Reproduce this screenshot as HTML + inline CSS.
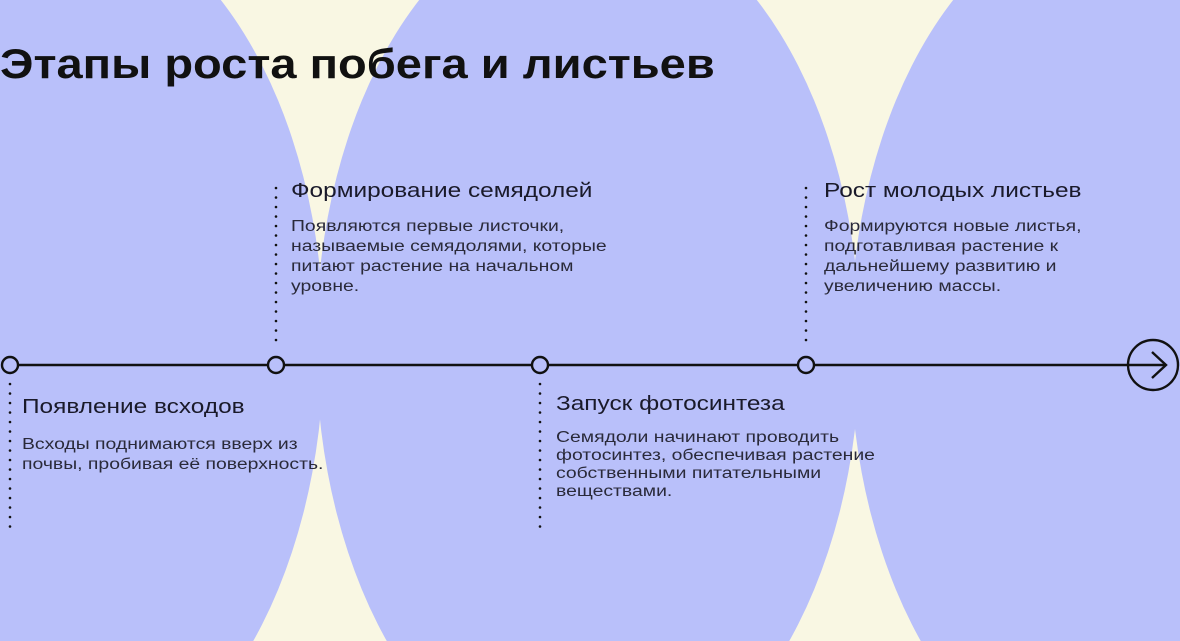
<!DOCTYPE html>
<html><head><meta charset="utf-8"><style>
html,body{margin:0;padding:0;width:1180px;height:641px;overflow:hidden;}
body{position:relative;background:#f9f7e3;font-family:"Liberation Sans",sans-serif;color:#1a1a2a;}
svg{position:absolute;left:0;top:0;display:block;}
.t{position:absolute;white-space:nowrap;transform-origin:0 0;}
.h{font-size:20px;transform:scaleX(1.22);}
.b{font-size:15.5px;line-height:20px;color:#2a2a3a;transform:scaleX(1.25);}
</style></head><body>
<svg width="1180" height="641" viewBox="0 0 1180 641">
<ellipse cx="52" cy="345" rx="272" ry="440" fill="#b9c0fa"/>
<ellipse cx="588" cy="345" rx="272" ry="440" fill="#b9c0fa"/>
<ellipse cx="1122" cy="345" rx="272" ry="440" fill="#b9c0fa"/>
<g stroke="#111" stroke-width="2.6" stroke-linecap="round" stroke-dasharray="0 9.5">
<line x1="276" y1="188" x2="276" y2="346"/>
<line x1="806" y1="188" x2="806" y2="346"/>
<line x1="10" y1="384" x2="10" y2="528"/>
<line x1="540" y1="384" x2="540" y2="528"/>
</g>
<line x1="18" y1="365" x2="1128" y2="365" stroke="#111" stroke-width="2.6"/>
<g fill="#b9c0fa" stroke="#111" stroke-width="2.4">
<circle cx="10" cy="365" r="8"/>
<circle cx="276" cy="365" r="8"/>
<circle cx="540" cy="365" r="8"/>
<circle cx="806" cy="365" r="8"/>
<circle cx="1153" cy="365" r="25" fill="none"/>
</g>
<line x1="1128" y1="365" x2="1166" y2="365" stroke="#111" stroke-width="2.4"/>
<polyline points="1152,352 1166,365 1152,378" fill="none" stroke="#111" stroke-width="2.4"/>
</svg>
<div class="t" style="left:0;top:40px;font-size:42px;font-weight:bold;color:#111;transform:scaleX(1.12);">Этапы роста побега и листьев</div>

<div class="t h" style="left:291px;top:180px;">Формирование семядолей</div>
<div class="t b" style="left:291px;top:217px;">Появляются первые листочки,<br>называемые семядолями, которые<br>питают растение на начальном<br>уровне.</div>

<div class="t h" style="left:824px;top:180px;">Рост молодых листьев</div>
<div class="t b" style="left:824px;top:217px;">Формируются новые листья,<br>подготавливая растение к<br>дальнейшему развитию и<br>увеличению массы.</div>

<div class="t h" style="left:22px;top:396px;">Появление всходов</div>
<div class="t b" style="left:22px;top:435px;">Всходы поднимаются вверх из<br>почвы, пробивая её поверхность.</div>

<div class="t h" style="left:556px;top:393px;">Запуск фотосинтеза</div>
<div class="t b" style="left:556px;top:429px;line-height:18px;">Семядоли начинают проводить<br>фотосинтез, обеспечивая растение<br>собственными питательными<br>веществами.</div>
</body></html>
